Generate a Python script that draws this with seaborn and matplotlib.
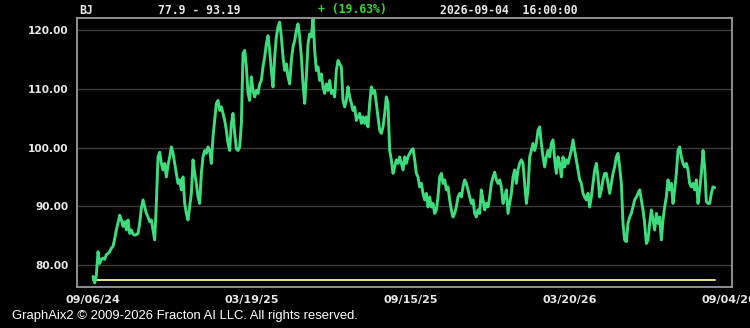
import numpy as np
import pandas as pd
import matplotlib
matplotlib.use("Agg")
import matplotlib.pyplot as plt
from matplotlib.ticker import MultipleLocator, FixedLocator
import seaborn as sns

# ---- data ----
seg1 = [78.1, 77.0, 78.3, 82.3, 80.3, 81.0, 81.2, 81.0, 81.8, 82.0,
        82.3, 82.9, 83.2, 84.5, 86.0, 87.2, 88.5, 87.7, 86.6, 87.4,
        86.0, 87.7, 85.4, 86.0, 85.3, 85.1, 85.2, 85.4, 87.1, 89.7,
        91.1, 89.9, 88.8, 88.2, 87.4, 87.7, 86.0, 84.3, 90.5, 98.4,
        99.2, 97.3, 96.2, 97.3, 95.0, 97.0, 98.4, 100.1, 99.0, 97.3,
        95.6, 93.9, 94.5, 92.8, 95.0, 90.5, 88.8, 87.7, 89.9, 92.2]
seg2 = [97.9, 95.6, 93.9, 91.6, 90.5, 95.6, 98.4, 99.5, 99.0, 100.1,
        99.5, 97.3, 101.8, 104.6, 107.5, 108.0, 106.3, 106.9, 105.8, 104.6,
        102.9, 100.7, 99.5, 104.1, 105.8, 102.4, 99.8, 99.5, 100.1, 104.0,
        116.0, 116.5, 113.7, 109.2, 108.0, 112.0, 109.7, 108.6, 109.7, 109.2,
        110.8, 111.4, 113.7, 115.4, 117.6, 119.0, 116.5, 113.1, 110.3, 115.4,
        118.8, 120.5, 121.3, 118.8, 115.4, 113.1, 114.2, 112.0, 110.8, 114.8,
        117.1, 118.2]
seg3 = [119.9, 121.0, 118.8, 115.4, 110.8, 107.5, 112.0, 117.6, 119.3, 118.8,
        121.9, 116.5, 113.1, 113.7, 111.4, 112.5, 110.3, 109.2, 110.8, 109.7,
        111.4, 109.2, 109.7, 108.6, 113.1, 114.8, 114.2, 113.7, 108.0, 106.9,
        108.0, 110.3, 108.6, 107.5, 106.3, 106.9, 104.6, 105.2, 105.8, 104.1,
        105.2, 104.1, 105.2, 103.5, 107.5, 110.3, 109.2, 109.7, 107.5, 105.2,
        102.9, 102.4, 103.5, 105.8, 108.6, 107.5, 99.5, 97.9, 95.6, 96.7,
        97.9, 97.3]
seg4 = [98.4, 97.3, 96.2, 98.4, 97.3, 98.4, 99.0, 99.5, 99.8, 97.9,
        95.6, 95.0, 93.3, 93.9, 92.2, 91.1, 92.2, 89.9, 91.6, 89.9,
        90.5, 88.8, 89.4, 91.6, 95.0, 95.6, 93.9, 94.5, 92.8, 93.3,
        91.1, 89.4, 88.2, 88.8, 89.9, 91.6, 92.2, 91.6, 93.3, 94.5,
        93.9, 92.8, 91.6, 90.5, 91.1, 88.8, 88.2, 89.4, 88.8, 92.8,
        91.1, 89.4, 90.5, 89.9, 91.6, 93.9, 95.0, 95.8, 94.5, 93.9,
        94.5, 93.3]
seg5 = [90.5, 91.6, 92.8, 88.8, 90.5, 92.2, 95.0, 96.2, 93.9, 96.2,
        97.3, 97.9, 97.3, 93.9, 90.5, 92.8, 98.4, 99.5, 100.7, 99.5,
        100.7, 102.9, 103.5, 100.7, 98.4, 96.7, 98.4, 99.5, 98.4, 100.7,
        101.3, 97.9, 95.6, 98.4, 97.3, 95.0, 98.4, 96.7, 97.9, 97.3,
        98.4, 99.5, 101.3, 99.5, 97.9, 96.2, 94.5, 93.9, 92.2, 91.6,
        91.1, 92.2, 89.9, 91.6, 93.9, 96.2, 97.3, 95.0, 91.6, 92.8,
        94.5, 95.6]
seg6 = [95.6, 93.9, 92.2, 93.9, 95.6, 96.7, 98.4, 99.0, 96.7, 93.9,
        87.1, 84.3, 84.0, 87.1, 88.2, 88.8, 89.9, 91.1, 91.6, 92.2,
        92.8, 91.1, 89.4, 87.1, 83.7, 84.3, 87.1, 89.4, 87.7, 86.0,
        88.8, 87.1, 88.2, 84.3, 87.7, 89.9, 91.6, 94.5, 92.8, 93.9,
        90.5, 92.8, 95.6, 99.5, 100.1, 98.4, 97.3, 96.7, 97.3, 96.2,
        93.9, 93.3, 93.9, 92.8, 94.5, 90.5, 92.8, 95.6, 99.5, 96.7,
        90.8, 90.5, 90.5, 92.2, 93.3, 93.19]

ref_level = 77.5
y_ticks = [80, 90, 100, 110, 120]
x_tick_labels = ["09/06/24", "03/19/25", "09/15/25", "03/20/26", "09/04/26"]
tick_spacing = 95.4  # bars between date labels

values = seg1 + seg2 + seg3 + seg4 + seg5 + seg6
df = pd.DataFrame({"bar": np.arange(len(values)), "price": values})
ref = pd.DataFrame({"bar": [0, len(values) - 1], "price": [ref_level, ref_level]})

# ---- style ----
sns.set_style("dark")
plt.rcParams["font.family"] = ["DejaVu Sans"]

fig = plt.figure(figsize=(7.5, 3.28), dpi=100, facecolor="black")
ax = fig.add_axes([0.1027, 0.125, 0.8733, 0.82])
ax.set_facecolor("black")

sns.lineplot(data=ref, x="bar", y="price", ax=ax, color="#e6e68c", linewidth=1.4)
sns.lineplot(data=df, x="bar", y="price", ax=ax, color="#3ddc7c", linewidth=2.1)

ax.set_xlim(-9.6, 383.4)
ax.set_ylim(76.3, 122.0)

ax.yaxis.set_major_locator(FixedLocator(y_ticks))
ax.yaxis.set_minor_locator(MultipleLocator(2))
ax.set_yticklabels([f"{v:.2f}" for v in y_ticks])

xt = [i * tick_spacing for i in range(len(x_tick_labels))]
ax.xaxis.set_major_locator(FixedLocator(xt))
ax.xaxis.set_minor_locator(MultipleLocator(tick_spacing / 5))
ax.set_xticklabels(x_tick_labels)

ax.grid(False)
ax.grid(True, axis="y", which="major", color="#3a3a3a", linewidth=1.0)
ax.set_xlabel("")
ax.set_ylabel("")

for s in ax.spines.values():
    s.set_visible(True)
    s.set_color("#9a9a9a")
    s.set_linewidth(1.3)

ax.tick_params(axis="both", which="major", direction="out", length=4, width=1,
               color="#9a9a9a", labelcolor="#e8e8e8", pad=2)
ax.tick_params(axis="both", which="minor", direction="out", length=2.5, width=1,
               color="#9a9a9a")
for lab in ax.get_yticklabels():
    lab.set_fontweight("bold")
    lab.set_fontsize(7.6)
for lab in ax.get_xticklabels():
    lab.set_fontweight("bold")
    lab.set_fontsize(8.0)

# ---- header ----
mono = dict(family=["DejaVu Sans Mono"], fontweight="bold", fontsize=8.3,
            va="center", ha="left")
fig.text(79 / 750, 1 - 10 / 328, "BJ", color="#e8e8e8", **mono)
fig.text(158 / 750, 1 - 10 / 328, "77.9 - 93.19", color="#e8e8e8", **mono)
fig.text(318 / 750, 1 - 10 / 328, "+ (19.63%)", color="#33d633", **mono)
fig.text(440 / 750, 1 - 10 / 328, "2026-09-04  16:00:00", color="#e8e8e8", **mono)

# ---- footer ----
fig.text(12 / 750, 1 - 316 / 328,
         "GraphAix2 \u00a9 2009-2026 Fracton AI LLC. All rights reserved.",
         color="white", family=["Liberation Sans", "DejaVu Sans"],
         fontsize=9.4, va="center", ha="left")

fig.savefig("out.png", dpi=100, facecolor="black")
